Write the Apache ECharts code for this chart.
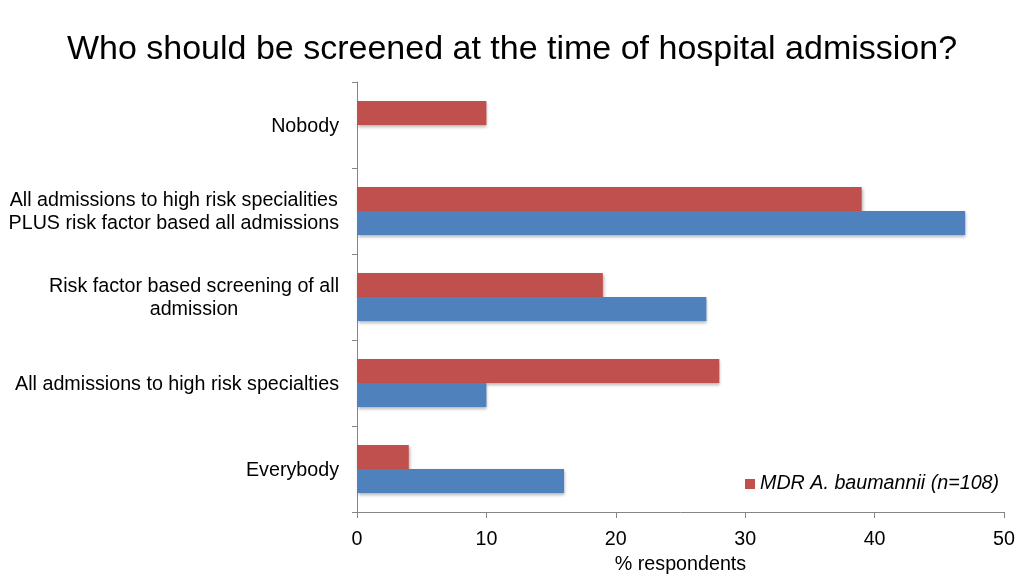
<!DOCTYPE html>
<html>
<head>
<meta charset="utf-8">
<script src="https://cdn.jsdelivr.net/npm/echarts@6/dist/echarts.min.js"></script>
<style>
html,body{margin:0;padding:0;background:#fff;}
#c{width:1024px;height:576px;}
</style>
</head>
<body>
<div id="c"></div>
<script>
var categories = [
  'Everybody',
  'All admissions to high risk specialties',
  'Risk factor based screening of all\nadmission',
  'All admissions to high risk specialities\nPLUS risk factor based all admissions',
  'Nobody'
];
var redName = 'MDR A. baumannii (n=108)';
var redValues = [4, 28, 19, 39, 10];
var blueValues = [16, 10, 27, 47, 0];
var xTicks = [0, 10, 20, 30, 40, 50];

var FONT = "'Liberation Sans', Arial, Helvetica, sans-serif";
var chart = echarts.init(document.getElementById('c'), null, {renderer: 'canvas'});
var shadow = {shadowBlur: 3, shadowOffsetX: 1, shadowOffsetY: 2, shadowColor: 'rgba(0,0,0,0.3)'};

chart.setOption({
  animation: false,
  backgroundColor: '#ffffff',
  title: {
    text: 'Who should be screened at the time of hospital admission?',
    left: 'center',
    top: 28,
    textStyle: {fontFamily: FONT, fontSize: 34, fontWeight: 'normal', color: '#000'}
  },
  legend: {
    data: [redName],
    left: 740,
    top: 469,
    itemWidth: 10,
    itemHeight: 10,
    itemGap: 6,
    icon: 'rect',
    textStyle: {fontFamily: FONT, fontSize: 19.7, fontStyle: 'italic', color: '#000'}
  },
  grid: {left: 357, right: 20, top: 82, bottom: 64, outerBoundsMode: 'none', containLabel: false},
  xAxis: {
    type: 'value',
    min: xTicks[0],
    max: xTicks[xTicks.length - 1],
    interval: 10,
    name: '% respondents',
    nameLocation: 'middle',
    nameGap: 37,
    nameTextStyle: {fontFamily: FONT, fontSize: 19.7, color: '#000'},
    axisLine: {show: true, lineStyle: {color: '#868686', width: 1}},
    axisTick: {show: true, length: 6, lineStyle: {color: '#868686'}},
    axisLabel: {fontFamily: FONT, fontSize: 19.7, color: '#000', margin: 18},
    splitLine: {show: false}
  },
  yAxis: {
    type: 'category',
    data: categories,
    axisLine: {show: true, lineStyle: {color: '#868686', width: 1}},
    axisTick: {show: true, length: 5, lineStyle: {color: '#868686'}},
    axisLabel: {
      margin: 18,
      fontFamily: FONT, fontSize: 19.7, color: '#000',
      lineHeight: 23,
      formatter: function (v) {
        return v.split('\n').map(function (s) { return '{a|' + s + '}'; }).join('\n');
      },
      rich: {a: {align: 'center', fontFamily: FONT, fontSize: 19.7, color: '#000', lineHeight: 23, padding: [3, 0, 0, 0]}}
    },
    splitLine: {show: false}
  },
  series: [
    {
      name: redName,
      type: 'bar',
      data: redValues,
      barWidth: 24,
      barGap: '0%',
      itemStyle: Object.assign({color: '#C0504D'}, shadow)
    },
    {
      name: 'blue',
      type: 'bar',
      data: blueValues,
      barWidth: 24,
      barGap: '0%',
      itemStyle: Object.assign({color: '#4F81BD'}, shadow)
    }
  ]
});
</script>
</body>
</html>
